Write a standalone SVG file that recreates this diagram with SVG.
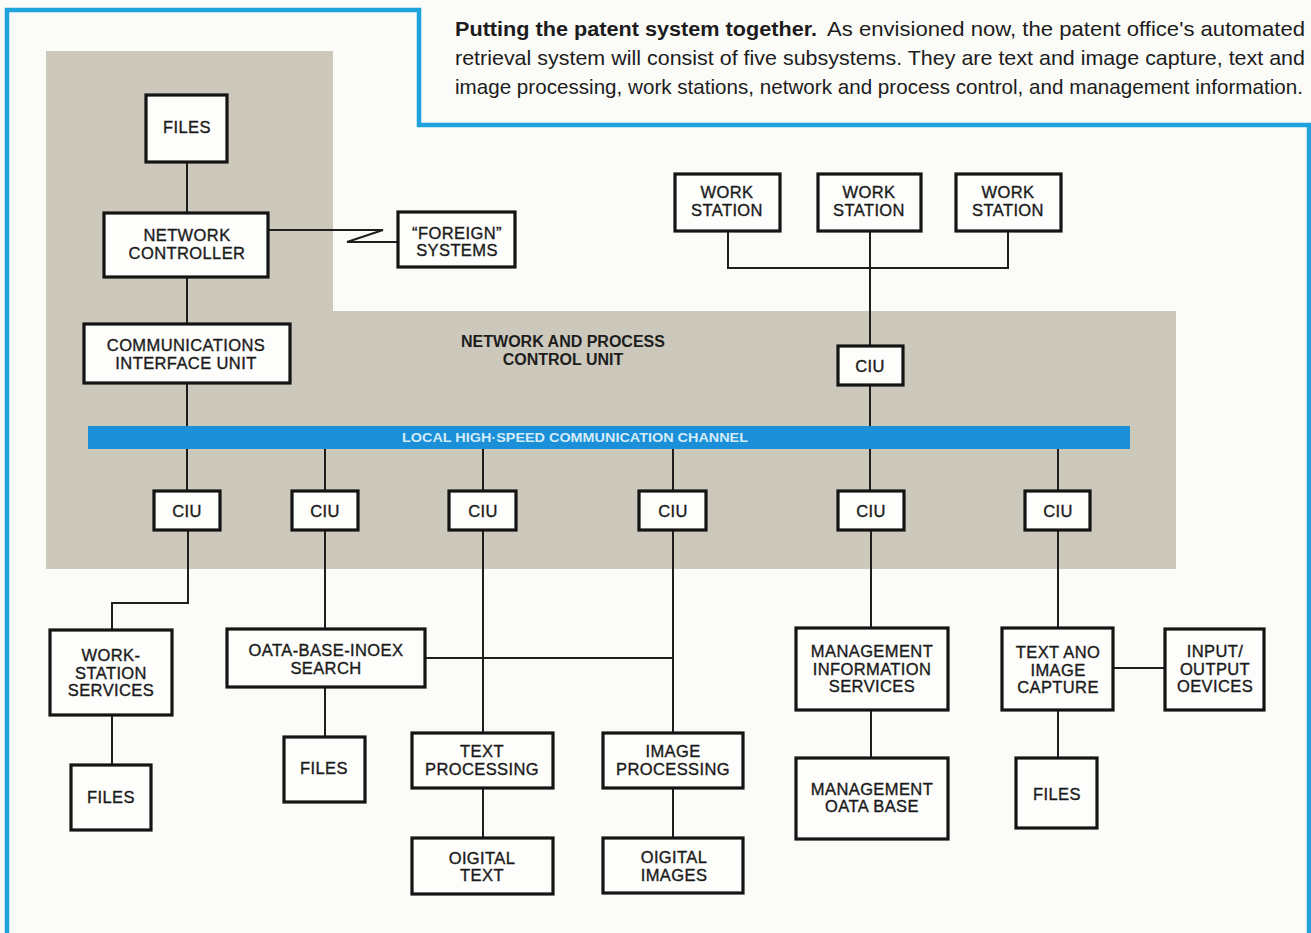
<svg xmlns="http://www.w3.org/2000/svg" width="1311" height="933" viewBox="0 0 1311 933">
  <style>
    .box { fill: #fdfdfb; stroke: #141414; stroke-width: 3.2; }
    .wire { fill: none; stroke: #1e1e1e; stroke-width: 2; }
    .lbl { font-family: "Liberation Sans", Arial, sans-serif; font-size: 16.5px; fill: #1a1a1a; stroke: #1a1a1a; stroke-width: 0.35; text-anchor: middle; letter-spacing: 0.4px; }
    .zone { font-family: "Liberation Sans", Arial, sans-serif; font-size: 16px; font-weight: bold; fill: #1d1d1d; text-anchor: middle; }
    .bus { font-family: "Liberation Sans", Arial, sans-serif; font-size: 12px; font-weight: bold; fill: #d4ebf8; text-anchor: middle; }
    .cap { font-family: "Liberation Sans", Arial, sans-serif; font-size: 19px; fill: #1c1c1c; }
    .frame { fill: none; stroke: #1fa3dc; stroke-width: 4.5; }
  </style>

  <!-- paper -->
  <rect x="0" y="0" width="1311" height="933" fill="#fbfbf8"/>

  <!-- caption frame -->
  <path class="frame" d="M7,933 V10 H419 V125 H1309 V933"/>

  <!-- caption, set slightly tall and condensed -->
  <g id="caption" transform="scale(1,1.1)">
    <text class="cap" y="32.7">
      <tspan x="455" font-weight="bold" textLength="362" lengthAdjust="spacingAndGlyphs">Putting the patent system together.</tspan>
      <tspan x="827" textLength="478" lengthAdjust="spacingAndGlyphs">As envisioned now, the patent office's automated</tspan>
    </text>
    <text class="cap" x="455" y="59.1" textLength="850" lengthAdjust="spacingAndGlyphs">retrieval system will consist of five subsystems. They are text and image capture, text and</text>
    <text class="cap" x="455" y="85.5" textLength="848" lengthAdjust="spacingAndGlyphs">image processing, work stations, network and process control, and management information.</text>
  </g>

  <!-- network and process control unit area -->
  <g id="control-zone">
    <path d="M46,51 H333 V311 H1176 V569 H46 Z" fill="#ccc8bb"/>
    <text class="zone" x="563" y="347">NETWORK AND PROCESS</text>
    <text class="zone" x="563" y="365">CONTROL UNIT</text>
  </g>

  <!-- connectors -->
  <g id="connectors">
    <path class="wire" d="M187,162 V213"/>
    <path class="wire" d="M268,230 H383 L347,242 H398"/>
    <path class="wire" d="M187,277 V324"/>
    <path class="wire" d="M187,383 V426"/>
    <path class="wire" d="M728,231 V268 H1008 V231"/>
    <path class="wire" d="M870,231 V346"/>
    <path class="wire" d="M870,385 V426"/>
    <path class="wire" d="M187,449 V491"/>
    <path class="wire" d="M325,449 V491"/>
    <path class="wire" d="M483,449 V491"/>
    <path class="wire" d="M673,449 V491"/>
    <path class="wire" d="M870,449 V491"/>
    <path class="wire" d="M1058,449 V491"/>
    <path class="wire" d="M188,530 V603 H112 V630"/>
    <path class="wire" d="M112,715 V765"/>
    <path class="wire" d="M325,530 V629"/>
    <path class="wire" d="M325,687 V737"/>
    <path class="wire" d="M425,658 H673"/>
    <path class="wire" d="M483,530 V733"/>
    <path class="wire" d="M673,530 V733"/>
    <path class="wire" d="M483,788 V838"/>
    <path class="wire" d="M673,788 V838"/>
    <path class="wire" d="M871,530 V628"/>
    <path class="wire" d="M871,710 V758"/>
    <path class="wire" d="M1058,530 V628"/>
    <path class="wire" d="M1058,710 V758"/>
    <path class="wire" d="M1113,668 H1165"/>
  </g>

  <!-- communication channel -->
  <g id="channel">
    <rect x="88" y="426" width="1042" height="23" fill="#1b8fd8"/>
    <text class="bus" x="575" y="442" textLength="346" lengthAdjust="spacingAndGlyphs">LOCAL HIGH·SPEED COMMUNICATION CHANNEL</text>
  </g>

  <g id="files-top">
    <rect class="box" x="146" y="95" width="81" height="67"/>
    <text class="lbl" x="187" y="133">FILES</text>
  </g>

  <g id="network-controller">
    <rect class="box" x="104" y="213" width="164" height="64"/>
    <text class="lbl" x="187" y="241">NETWORK</text>
    <text class="lbl" x="187" y="259">CONTROLLER</text>
  </g>

  <g id="foreign-systems">
    <rect class="box" x="398" y="212" width="117" height="55"/>
    <text class="lbl" x="457" y="239">“FOREIGN”</text>
    <text class="lbl" x="457" y="256">SYSTEMS</text>
  </g>

  <g id="comm-interface-unit">
    <rect class="box" x="84" y="324" width="206" height="59"/>
    <text class="lbl" x="186" y="351">COMMUNICATIONS</text>
    <text class="lbl" x="186" y="369">INTERFACE UNIT</text>
  </g>

  <g id="work-station-1">
    <rect class="box" x="675" y="174" width="105" height="57"/>
    <text class="lbl" x="727" y="198">WORK</text>
    <text class="lbl" x="727" y="216">STATION</text>
  </g>
  <g id="work-station-2">
    <rect class="box" x="818" y="174" width="103" height="57"/>
    <text class="lbl" x="869" y="198">WORK</text>
    <text class="lbl" x="869" y="216">STATION</text>
  </g>
  <g id="work-station-3">
    <rect class="box" x="956" y="174" width="105" height="57"/>
    <text class="lbl" x="1008" y="198">WORK</text>
    <text class="lbl" x="1008" y="216">STATION</text>
  </g>

  <g id="ciu-top">
    <rect class="box" x="838" y="346" width="65" height="39"/>
    <text class="lbl" x="870" y="372">CIU</text>
  </g>

  <g id="ciu-1">
    <rect class="box" x="154" y="491" width="66" height="39"/>
    <text class="lbl" x="187" y="517">CIU</text>
  </g>
  <g id="ciu-2">
    <rect class="box" x="292" y="491" width="66" height="39"/>
    <text class="lbl" x="325" y="517">CIU</text>
  </g>
  <g id="ciu-3">
    <rect class="box" x="449" y="491" width="67" height="39"/>
    <text class="lbl" x="483" y="517">CIU</text>
  </g>
  <g id="ciu-4">
    <rect class="box" x="639" y="491" width="67" height="39"/>
    <text class="lbl" x="673" y="517">CIU</text>
  </g>
  <g id="ciu-5">
    <rect class="box" x="838" y="491" width="66" height="39"/>
    <text class="lbl" x="871" y="517">CIU</text>
  </g>
  <g id="ciu-6">
    <rect class="box" x="1025" y="491" width="65" height="39"/>
    <text class="lbl" x="1058" y="517">CIU</text>
  </g>

  <g id="workstation-services">
    <rect class="box" x="50" y="630" width="122" height="85"/>
    <text class="lbl" x="111" y="661">WORK-</text>
    <text class="lbl" x="111" y="679">STATION</text>
    <text class="lbl" x="111" y="696">SERVICES</text>
  </g>
  <g id="files-workstation">
    <rect class="box" x="71" y="765" width="80" height="65"/>
    <text class="lbl" x="111" y="803">FILES</text>
  </g>

  <g id="index-search">
    <rect class="box" x="227" y="629" width="198" height="58"/>
    <text class="lbl" x="326" y="656">OATA-BASE-INOEX</text>
    <text class="lbl" x="326" y="674">SEARCH</text>
  </g>
  <g id="files-index">
    <rect class="box" x="284" y="737" width="81" height="65"/>
    <text class="lbl" x="324" y="774">FILES</text>
  </g>

  <g id="text-processing">
    <rect class="box" x="412" y="733" width="141" height="55"/>
    <text class="lbl" x="482" y="757">TEXT</text>
    <text class="lbl" x="482" y="775">PROCESSING</text>
  </g>
  <g id="image-processing">
    <rect class="box" x="603" y="733" width="140" height="55"/>
    <text class="lbl" x="673" y="757">IMAGE</text>
    <text class="lbl" x="673" y="775">PROCESSING</text>
  </g>
  <g id="digital-text">
    <rect class="box" x="412" y="838" width="141" height="56"/>
    <text class="lbl" x="482" y="864">OIGITAL</text>
    <text class="lbl" x="482" y="881">TEXT</text>
  </g>
  <g id="digital-images">
    <rect class="box" x="603" y="838" width="140" height="55"/>
    <text class="lbl" x="674" y="863">OIGITAL</text>
    <text class="lbl" x="674" y="881">IMAGES</text>
  </g>

  <g id="management-info">
    <rect class="box" x="796" y="628" width="152" height="82"/>
    <text class="lbl" x="872" y="657">MANAGEMENT</text>
    <text class="lbl" x="872" y="675">INFORMATION</text>
    <text class="lbl" x="872" y="692">SERVICES</text>
  </g>
  <g id="management-db">
    <rect class="box" x="796" y="758" width="152" height="81"/>
    <text class="lbl" x="872" y="795">MANAGEMENT</text>
    <text class="lbl" x="872" y="812">OATA BASE</text>
  </g>

  <g id="capture">
    <rect class="box" x="1002" y="628" width="111" height="82"/>
    <text class="lbl" x="1058" y="658">TEXT ANO</text>
    <text class="lbl" x="1058" y="676">IMAGE</text>
    <text class="lbl" x="1058" y="693">CAPTURE</text>
  </g>
  <g id="io-devices">
    <rect class="box" x="1165" y="629" width="99" height="81"/>
    <text class="lbl" x="1215" y="657">INPUT/</text>
    <text class="lbl" x="1215" y="675">OUTPUT</text>
    <text class="lbl" x="1215" y="692">OEVICES</text>
  </g>
  <g id="files-capture">
    <rect class="box" x="1016" y="758" width="81" height="70"/>
    <text class="lbl" x="1057" y="800">FILES</text>
  </g>
</svg>
